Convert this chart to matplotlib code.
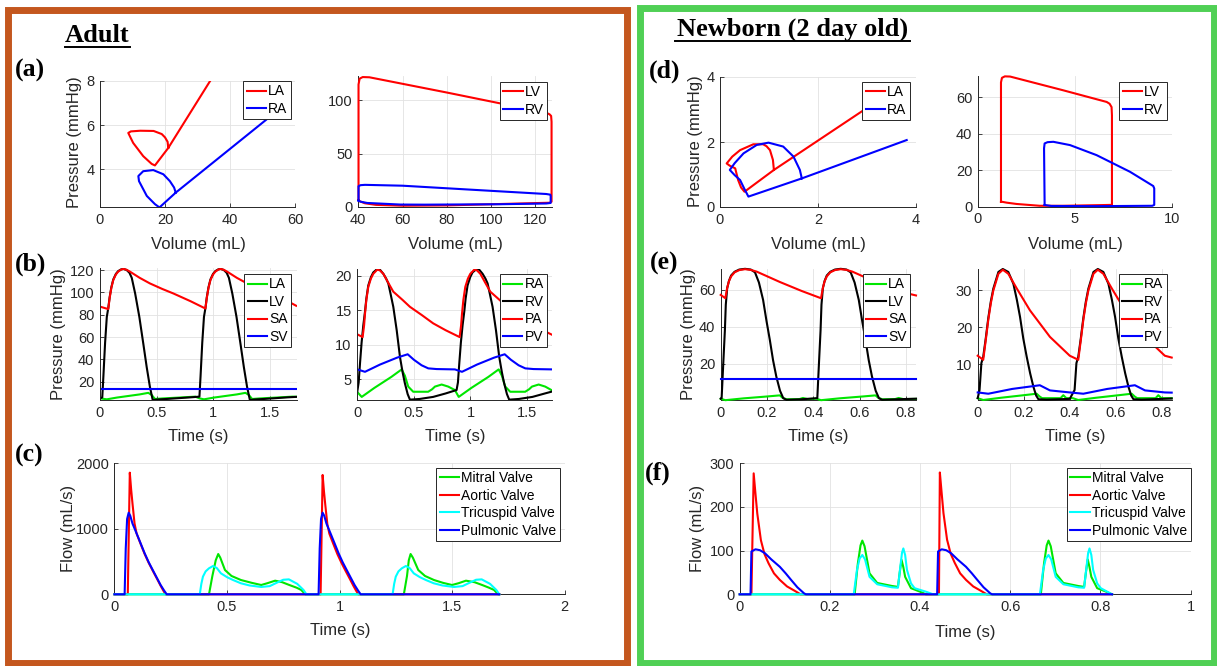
import matplotlib
matplotlib.use('Agg')
import matplotlib.pyplot as plt
from matplotlib.patches import Rectangle
from matplotlib.lines import Line2D

# ---------------- DATA ----------------
# (a) Adult atrial PV loops
adult_LA_vol = [21.0, 20.8, 20.0, 19.0, 16.5, 12.4, 9.5, 8.7, 10.2, 13.3, 15.9, 16.9, 21.0, 36.0]
adult_LA_prs = [4.97, 5.25, 5.45, 5.6, 5.74, 5.75, 5.72, 5.65, 5.2, 4.6, 4.25, 4.18, 4.97, 8.5]
adult_RA_vol = [23.3, 22.8, 21.5, 19.5, 16.4, 13.3, 11.8, 12.0, 14.4, 16.9, 18.3, 23.3, 52.0]
adult_RA_prs = [2.95, 3.18, 3.47, 3.78, 3.97, 3.92, 3.7, 3.47, 2.8, 2.43, 2.28, 2.95, 6.35]
# (a) Adult ventricular PV loops
adult_LV_vol = [40.1, 40.1, 40.6, 42.0, 45.0, 80.0, 125.0, 126.5, 127.2, 127.4, 127.4, 126.5, 104.0, 80.0, 60.0, 48.0, 43.0, 40.5, 40.1]
adult_LV_prs = [6.5, 115.0, 120.5, 122.0, 121.8, 107.5, 88.5, 87.0, 85.5, 80.0, 5.0, 4.0, 2.8, 1.5, 1.2, 2.0, 3.5, 5.5, 6.5]
adult_RV_vol = [40.1, 40.1, 41.0, 43.0, 60.0, 89.0, 125.0, 126.8, 127.0, 127.0, 125.0, 104.0, 70.0, 59.0, 44.0, 41.0, 40.1]
adult_RV_prs = [6.0, 19.5, 20.5, 20.8, 20.0, 16.5, 12.2, 11.6, 10.5, 3.8, 3.3, 2.6, 2.2, 2.3, 3.8, 5.0, 6.0]

# (b) Adult left-side pressures
adult_bLA_t = [0.000, 0.060, 0.150, 0.250, 0.350, 0.426, 0.456, 0.485, 0.550, 0.700, 0.840, 0.877, 0.917, 1.007, 1.107, 1.207, 1.283, 1.313, 1.342, 1.407, 1.557, 1.697, 1.730]
adult_bLA_p = [5.1, 4.2, 5.8, 7.2, 8.6, 10.0, 8.1, 4.5, 5.0, 5.8, 6.6, 5.1, 4.2, 5.8, 7.2, 8.6, 10.0, 8.1, 4.5, 5.0, 5.8, 6.6, 6.5]
adult_bLV_t = [0.000, 0.020, 0.030, 0.045, 0.060, 0.073, 0.085, 0.100, 0.117, 0.140, 0.160, 0.185, 0.206, 0.235, 0.260, 0.280, 0.310, 0.347, 0.382, 0.412, 0.440, 0.465, 0.500, 0.600, 0.700, 0.800, 0.877,
               0.887, 0.902, 0.917, 0.930, 0.942, 0.957, 0.974, 0.997, 1.017, 1.042, 1.063, 1.092, 1.117, 1.137, 1.167, 1.204, 1.239, 1.269, 1.297, 1.322, 1.357, 1.457, 1.557, 1.657, 1.730]
adult_bLV_p = [5.0, 6.0, 25.0, 55.0, 78.0, 86.0, 95.5, 104.5, 111.5, 116.5, 119.0, 120.5, 121.0, 120.0, 117.5, 113.0, 99.0, 78.0, 54.0, 33.0, 15.5, 3.6, 4.0, 4.6, 5.3, 6.0, 6.6,
               25.0, 55.0, 78.0, 86.0, 95.5, 104.5, 111.5, 116.5, 119.0, 120.5, 121.0, 120.0, 117.5, 113.0, 99.0, 78.0, 54.0, 33.0, 15.5, 3.6, 4.0, 4.6, 5.3, 6.0, 6.4]
adult_bSA_t = [0.000, 0.073, 0.085, 0.100, 0.117, 0.140, 0.160, 0.185, 0.206, 0.235, 0.265, 0.350, 0.440, 0.550, 0.647, 0.800,
               0.930, 0.942, 0.957, 0.974, 0.997, 1.017, 1.042, 1.063, 1.092, 1.122, 1.207, 1.297, 1.407, 1.504, 1.657, 1.730]
adult_bSA_p = [87.2, 85.0, 95.0, 104.0, 111.0, 116.0, 118.5, 120.3, 121.0, 120.2, 118.5, 113.0, 108.0, 103.0, 99.0, 92.0,
               85.5, 95.0, 104.0, 111.0, 116.0, 118.5, 120.3, 121.0, 120.2, 118.5, 113.0, 108.0, 103.0, 99.0, 92.0, 88.0]
adult_bSV_t = [0.0, 1.73]
adult_bSV_p = [13.7, 13.7]

# (b) Adult right-side pressures
adult_bRA_t = [0.000, 0.039, 0.150, 0.300, 0.392, 0.420, 0.450, 0.494, 0.626, 0.660, 0.686, 0.745, 0.803, 0.862, 0.896, 1.007, 1.157, 1.249, 1.277, 1.307, 1.351, 1.483, 1.517, 1.543, 1.602, 1.660, 1.725]
adult_bRA_p = [3.1, 2.4, 3.7, 5.3, 6.4, 5.5, 3.9, 3.15, 3.15, 3.5, 3.9, 4.2, 3.9, 3.4, 2.4, 3.7, 5.3, 6.4, 5.5, 3.9, 3.15, 3.15, 3.5, 3.9, 4.2, 3.9, 3.3]
adult_bRV_t = [0.000, 0.012, 0.024, 0.038, 0.053, 0.068, 0.080, 0.097, 0.120, 0.141, 0.176, 0.200, 0.230, 0.255, 0.274, 0.295, 0.318, 0.348, 0.377, 0.400, 0.420, 0.445, 0.465, 0.550, 0.670, 0.780, 0.877,
               0.889, 0.901, 0.915, 0.930, 0.945, 0.957, 0.974, 0.997, 1.018, 1.053, 1.077, 1.107, 1.132, 1.151, 1.172, 1.195, 1.225, 1.254, 1.277, 1.297, 1.322, 1.342, 1.427, 1.547, 1.657, 1.725]
adult_bRV_p = [3.2, 4.5, 7.3, 10.3, 12.8, 14.8, 16.7, 18.6, 19.8, 20.5, 21.0, 20.9, 20.3, 19.6, 18.9, 17.3, 15.5, 12.1, 8.2, 6.0, 4.4, 2.8, 2.0, 2.1, 2.4, 2.9, 3.4,
               4.5, 7.3, 10.3, 12.8, 14.8, 16.7, 18.6, 19.8, 20.5, 21.0, 20.9, 20.3, 19.6, 18.9, 17.3, 15.5, 12.1, 8.2, 6.0, 4.4, 2.8, 2.0, 2.1, 2.4, 2.9, 3.2]
adult_bPA_t = [0.000, 0.047, 0.060, 0.068, 0.080, 0.097, 0.120, 0.141, 0.176, 0.200, 0.230, 0.270, 0.318, 0.400, 0.465, 0.570, 0.670, 0.780,
               0.904, 0.917, 0.925, 0.937, 0.954, 0.977, 0.998, 1.033, 1.057, 1.087, 1.127, 1.175, 1.257, 1.322, 1.427, 1.527, 1.637, 1.725]
adult_bPA_p = [11.5, 11.1, 12.8, 14.5, 16.5, 18.4, 19.6, 20.3, 20.9, 20.8, 20.3, 19.1, 17.7, 16.5, 15.5, 14.3, 13.1, 12.1,
               11.1, 12.8, 14.5, 16.5, 18.4, 19.6, 20.3, 20.9, 20.8, 20.3, 19.1, 17.7, 16.5, 15.5, 14.3, 13.1, 12.1, 11.4]
adult_bPV_t = [0.000, 0.068, 0.200, 0.350, 0.445, 0.500, 0.568, 0.627, 0.700, 0.862, 0.925, 1.057, 1.207, 1.302, 1.357, 1.425, 1.484, 1.557, 1.725]
adult_bPV_p = [6.4, 6.05, 7.1, 8.1, 8.6, 7.8, 7.0, 6.55, 6.45, 6.4, 6.05, 7.1, 8.1, 8.6, 7.8, 7.0, 6.55, 6.45, 6.4]

# (c) Adult valve flows
adult_mitral_t = [0.000, 0.420, 0.435, 0.450, 0.461, 0.470, 0.491, 0.520, 0.562, 0.610, 0.652, 0.680, 0.714, 0.745, 0.777, 0.810, 0.830, 0.848,
                  1.286, 1.300, 1.308, 1.316, 1.326, 1.350, 1.380, 1.420, 1.460, 1.500, 1.530, 1.562, 1.600, 1.634, 1.665, 1.687, 1.705, 1.710]
adult_mitral_q = [0, 0, 280, 520, 615, 560, 371, 280, 218, 175, 142, 170, 208, 185, 142, 100, 66, 0,
                  0, 280, 520, 615, 560, 371, 280, 218, 175, 142, 170, 208, 185, 142, 100, 66, 0, 0]
adult_aortic_t = [0.000, 0.059, 0.068, 0.074, 0.080, 0.089, 0.098, 0.116, 0.134, 0.152, 0.170, 0.190, 0.205, 0.218, 0.227,
                  0.916, 0.925, 0.931, 0.937, 0.946, 0.955, 0.973, 0.991, 1.009, 1.027, 1.047, 1.062, 1.075, 1.084, 1.710]
adult_aortic_q = [0, 0, 1857, 1600, 1384, 1084, 930, 770, 615, 480, 360, 230, 130, 50, 0,
                  0, 1822, 1570, 1360, 1070, 925, 765, 610, 478, 358, 228, 128, 48, 0, 0]
adult_tricus_t = [0.000, 0.379, 0.386, 0.393, 0.405, 0.420, 0.438, 0.455, 0.473, 0.500, 0.527, 0.562, 0.600, 0.652, 0.690, 0.720, 0.750, 0.775, 0.812, 0.840, 0.853,
                  1.236, 1.243, 1.250, 1.262, 1.277, 1.295, 1.312, 1.330, 1.357, 1.384, 1.419, 1.457, 1.509, 1.547, 1.577, 1.607, 1.632, 1.669, 1.697, 1.710]
adult_tricus_q = [0, 0, 160, 269, 350, 397, 432, 400, 320, 262, 218, 168, 135, 112, 125, 175, 222, 228, 160, 66, 0,
                  0, 160, 269, 350, 397, 432, 400, 320, 262, 218, 168, 135, 112, 125, 175, 222, 228, 160, 66, 0]
adult_pulm_t = [0.000, 0.045, 0.050, 0.056, 0.063, 0.070, 0.080, 0.098, 0.116, 0.134, 0.152, 0.170, 0.190, 0.205, 0.220, 0.232,
                0.907, 0.912, 0.918, 0.925, 0.932, 0.942, 0.960, 0.978, 0.996, 1.014, 1.032, 1.052, 1.067, 1.082, 1.094, 1.710]
adult_pulm_q = [0, 0, 700, 1150, 1246, 1200, 1080, 931, 779, 626, 490, 371, 240, 142, 60, 0,
                0, 700, 1150, 1246, 1200, 1080, 931, 779, 626, 490, 371, 240, 142, 60, 0, 0]

# (d) Newborn atrial PV loops
nb_LA_vol = [1.1, 1.08, 1.02, 0.95, 0.88, 0.68, 0.41, 0.25, 0.136, 0.2, 0.31, 0.37, 0.43, 0.5, 1.1, 3.3]
nb_LA_prs = [1.14, 1.45, 1.75, 1.87, 1.93, 1.93, 1.75, 1.55, 1.34, 1.27, 1.19, 0.83, 0.6, 0.47, 1.14, 3.35]
nb_RA_vol = [1.67, 1.63, 1.5, 1.29, 0.99, 0.75, 0.48, 0.3, 0.2, 0.3, 0.41, 0.5, 0.58, 1.67, 3.81]
nb_RA_prs = [0.88, 1.14, 1.55, 1.86, 1.98, 1.91, 1.65, 1.35, 1.14, 0.98, 0.83, 0.55, 0.32, 0.88, 2.06]
# (d) Newborn ventricular PV loops
nb_LV_vol = [1.2, 1.2, 1.25, 1.4, 1.67, 4.4, 6.65, 6.8, 6.9, 6.92, 6.92, 6.5, 4.4, 3.2, 2.0, 1.5, 1.25, 1.2]
nb_LV_prs = [2.8, 68.0, 70.5, 71.3, 71.2, 63.7, 57.3, 56.3, 54.5, 50.0, 1.0, 0.9, 0.5, 0.5, 1.5, 2.2, 2.7, 2.8]
nb_RV_vol = [3.45, 3.42, 3.45, 3.6, 3.9, 4.76, 6.13, 7.85, 9.05, 9.1, 9.1, 9.0, 6.1, 3.8, 3.47, 3.45]
nb_RV_prs = [1.0, 32.0, 34.6, 35.3, 35.5, 33.7, 28.2, 19.1, 11.3, 10.0, 1.0, 0.5, 0.3, 0.4, 0.9, 1.0]

# (e) Newborn left-side pressures
nb_eLA_t = [0.000, 0.020, 0.100, 0.200, 0.255, 0.268, 0.285, 0.340, 0.355, 0.365, 0.375, 0.413, 0.433, 0.513, 0.613, 0.668, 0.681, 0.698, 0.753, 0.768, 0.778, 0.788, 0.843]
nb_eLA_p = [1.2, 0.4, 1.4, 2.4, 3.0, 1.6, 0.9, 1.0, 1.6, 1.3, 1.0, 1.2, 0.4, 1.4, 2.4, 3.0, 1.6, 0.9, 1.0, 1.6, 1.3, 1.0, 1.1]
nb_eLV_t = [0.000, 0.004, 0.011, 0.018, 0.022, 0.028, 0.036, 0.045, 0.060, 0.080, 0.105, 0.130, 0.148, 0.165, 0.183, 0.198, 0.212, 0.226, 0.240, 0.256, 0.270, 0.284, 0.350,
            0.417, 0.424, 0.431, 0.435, 0.441, 0.449, 0.458, 0.473, 0.493, 0.518, 0.543, 0.561, 0.578, 0.596, 0.611, 0.625, 0.639, 0.653, 0.669, 0.683, 0.697, 0.763, 0.843]
nb_eLV_p = [1.2, 1.5, 20.0, 38.0, 52.0, 61.0, 65.0, 67.8, 69.8, 71.0, 71.4, 71.0, 69.5, 64.0, 54.6, 43.0, 33.0, 22.0, 13.2, 5.5, 1.5, 0.6, 0.9,
            1.5, 20.0, 38.0, 52.0, 61.0, 65.0, 67.8, 69.8, 71.0, 71.4, 71.0, 69.5, 64.0, 54.6, 43.0, 33.0, 22.0, 13.2, 5.5, 1.5, 0.6, 0.9, 1.2]
nb_eSA_t = [0.000, 0.020, 0.027, 0.035, 0.045, 0.060, 0.080, 0.105, 0.130, 0.155, 0.255, 0.350,
            0.433, 0.440, 0.448, 0.458, 0.473, 0.493, 0.518, 0.543, 0.568, 0.668, 0.763, 0.843]
nb_eSA_p = [57.3, 55.5, 60.5, 64.5, 67.3, 69.5, 70.7, 71.2, 70.8, 69.9, 64.3, 59.4,
            55.5, 60.5, 64.5, 67.3, 69.5, 70.7, 71.2, 70.8, 69.9, 64.3, 59.4, 57.0]
nb_eSV_t = [0.0, 0.843]
nb_eSV_p = [11.7, 11.7]

# (e) Newborn right-side pressures
nb_eRA_t = [0.000, 0.024, 0.100, 0.200, 0.256, 0.270, 0.280, 0.360, 0.372, 0.385, 0.413, 0.437, 0.513, 0.613, 0.669, 0.683, 0.693, 0.773, 0.785, 0.798, 0.843]
nb_eRA_p = [0.8, 0.3, 0.9, 1.6, 2.0, 1.2, 0.8, 0.8, 1.6, 0.8, 0.8, 0.3, 0.9, 1.6, 2.0, 1.2, 0.8, 0.8, 1.6, 0.8, 0.8]
nb_eRV_t = [0.000, 0.008, 0.016, 0.024, 0.035, 0.046, 0.057, 0.068, 0.090, 0.109, 0.133, 0.155, 0.170, 0.184, 0.198, 0.213, 0.228, 0.242, 0.254, 0.264, 0.300, 0.400,
            0.421, 0.429, 0.437, 0.448, 0.459, 0.470, 0.481, 0.503, 0.522, 0.546, 0.568, 0.583, 0.597, 0.611, 0.626, 0.641, 0.655, 0.667, 0.677, 0.713, 0.843]
nb_eRV_p = [0.8, 3.0, 10.3, 12.0, 17.0, 22.5, 27.0, 30.5, 35.0, 35.8, 35.0, 31.8, 27.5, 22.8, 17.0, 12.0, 7.5, 3.9, 1.5, 0.5, 0.4, 0.6,
            3.0, 10.3, 12.0, 17.0, 22.5, 27.0, 30.5, 35.0, 35.8, 35.0, 31.8, 27.5, 22.8, 17.0, 12.0, 7.5, 3.9, 1.5, 0.5, 0.4, 0.7]
nb_ePA_t = [0.000, 0.024, 0.035, 0.046, 0.057, 0.068, 0.090, 0.109, 0.133, 0.170, 0.227, 0.314, 0.400,
            0.437, 0.448, 0.459, 0.470, 0.481, 0.503, 0.522, 0.546, 0.583, 0.640, 0.727, 0.813, 0.843]
nb_ePA_p = [12.3, 11.2, 16.5, 22.0, 26.5, 30.0, 34.5, 35.6, 34.5, 30.5, 24.6, 17.4, 12.3,
            11.2, 16.5, 22.0, 26.5, 30.0, 34.5, 35.6, 34.5, 30.5, 24.6, 17.4, 12.3, 11.8]
nb_ePV_t = [0.000, 0.046, 0.150, 0.270, 0.314, 0.400, 0.459, 0.563, 0.683, 0.727, 0.813, 0.843]
nb_ePV_p = [2.35, 2.0, 3.3, 4.3, 2.9, 2.35, 2.0, 3.3, 4.3, 2.9, 2.35, 2.3]

# (f) Newborn valve flows
nb_mitral_t = [0.000, 0.255, 0.262, 0.268, 0.272, 0.277, 0.288, 0.305, 0.338, 0.351, 0.355, 0.359, 0.363, 0.367, 0.380, 0.400, 0.413,
               0.668, 0.675, 0.681, 0.685, 0.690, 0.701, 0.718, 0.751, 0.764, 0.768, 0.772, 0.776, 0.780, 0.793, 0.813, 0.826]
nb_mitral_q = [0, 0, 70, 112, 123, 110, 48, 26, 19, 17, 50, 79, 62, 40, 14, 6, 0,
               0, 70, 112, 123, 110, 48, 26, 19, 17, 50, 80, 62, 40, 14, 6, 0]
nb_aortic_t = [0.000, 0.026, 0.031, 0.035, 0.039, 0.047, 0.055, 0.064, 0.076, 0.089, 0.105, 0.122, 0.135,
               0.442, 0.444, 0.448, 0.452, 0.460, 0.468, 0.477, 0.489, 0.502, 0.518, 0.535, 0.548, 0.826]
nb_aortic_q = [0, 0, 277, 230, 185, 124, 92, 71, 48, 33, 18, 8, 0,
               0, 279, 232, 186, 125, 93, 72, 48, 33, 18, 8, 0, 0]
nb_tricus_t = [0.000, 0.253, 0.260, 0.266, 0.272, 0.278, 0.288, 0.305, 0.338, 0.351, 0.356, 0.360, 0.363, 0.367, 0.371, 0.380, 0.388, 0.413, 0.429,
               0.666, 0.673, 0.679, 0.685, 0.691, 0.701, 0.718, 0.751, 0.764, 0.769, 0.773, 0.776, 0.780, 0.784, 0.793, 0.801, 0.826]
nb_tricus_q = [0, 0, 55, 82, 90, 80, 40, 23, 16, 15, 60, 95, 105, 90, 56, 25, 14, 6, 0,
               0, 55, 82, 90, 80, 40, 23, 16, 15, 60, 95, 105, 90, 56, 25, 14, 0]
nb_pulm_t = [0.000, 0.024, 0.026, 0.035, 0.045, 0.056, 0.070, 0.089, 0.102, 0.114, 0.128, 0.143, 0.147,
             0.438, 0.440, 0.448, 0.458, 0.469, 0.483, 0.502, 0.515, 0.527, 0.541, 0.556, 0.560, 0.826]
nb_pulm_q = [0, 0, 98, 103, 101, 94, 80, 63, 48, 33, 16, 2, 0,
             0, 98, 103, 101, 94, 80, 63, 48, 33, 16, 2, 0, 0]

# tick labels
adult_aL_xt = [0, 20, 40, 60];            adult_aL_yt = [4, 6, 8]
adult_aR_xt = [40, 60, 80, 100, 120];     adult_aR_yt = [0, 50, 100]
adult_b_xt = [0, 0.5, 1, 1.5];            adult_b_xtl = ['0', '0.5', '1', '1.5']
adult_bL_yt = [20, 40, 60, 80, 100, 120]; adult_bR_yt = [5, 10, 15, 20]
adult_c_xt = [0, 0.5, 1, 1.5, 2];         adult_c_xtl = ['0', '0.5', '1', '1.5', '2']
adult_c_yt = [0, 1000, 2000]
nb_dL_xt = [0, 2, 4];                     nb_dL_yt = [0, 2, 4]
nb_dR_xt = [0, 5, 10];                    nb_dR_yt = [0, 20, 40, 60]
nb_e_xt = [0, 0.2, 0.4, 0.6, 0.8];        nb_e_xtl = ['0', '0.2', '0.4', '0.6', '0.8']
nb_eL_yt = [20, 40, 60];                  nb_eR_yt = [10, 20, 30]
nb_f_xt = [0, 0.2, 0.4, 0.6, 0.8, 1];     nb_f_xtl = ['0', '0.2', '0.4', '0.6', '0.8', '1']
nb_f_yt = [0, 100, 200, 300]

# ---------------- FIGURE ----------------
W, H = 1217, 666
fig = plt.figure(figsize=(W / 100, H / 100), dpi=100)
fig.patch.set_facecolor('white')
SANS = ['Liberation Sans', 'DejaVu Sans']
SERIF = ['Liberation Serif', 'DejaVu Serif']
plt.rcParams['font.family'] = SANS
TXT = '#262626'
RED, BLUE, GREEN, BLACK, CYAN = '#FF0000', '#0000FF', '#00E600', '#000000', '#00FFFF'
LW = 1.5


def fx(x):
    return x / W


def fy(y):
    return 1 - y / H


def add_ax(x0, y0, x1, y1):
    return fig.add_axes([fx(x0), fy(y1), (x1 - x0) / W, (y1 - y0) / H])


def style(ax, xlim, ylim, xt, yt, xtl=None, ytl=None):
    ax.set_xlim(xlim)
    ax.set_ylim(ylim)
    ax.set_xticks(xt)
    ax.set_yticks(yt)
    ax.set_xticklabels(xtl if xtl is not None else [str(v) for v in xt])
    ax.set_yticklabels(ytl if ytl is not None else [str(v) for v in yt])
    for s in ['top', 'right']:
        ax.spines[s].set_visible(False)
    for s in ['left', 'bottom']:
        ax.spines[s].set_color(TXT)
        ax.spines[s].set_linewidth(0.7)
    ax.tick_params(direction='in', length=3, width=0.6, color=TXT,
                   labelcolor=TXT, labelsize=10.5, pad=4)
    ax.grid(True, color='#E2E2E2', linewidth=0.6)
    ax.set_axisbelow(True)


def legend(ax, right, top):
    lg = ax.legend(loc='upper right', bbox_to_anchor=(fx(right), fy(top)),
                   bbox_transform=fig.transFigure, fontsize=10, frameon=True,
                   fancybox=False, framealpha=1, edgecolor=TXT, borderpad=0.25,
                   handlelength=1.4, handletextpad=0.15, labelspacing=0.25,
                   borderaxespad=0)
    lg.get_frame().set_linewidth(0.7)
    lg.set_zorder(10)


def ftext(x, y, s, **kw):
    fig.text(fx(x), fy(y), s, ha='center', va='center', color=kw.pop('color', TXT), **kw)


# (a) left
ax = add_ax(100, 81, 295, 207)
ax.plot(adult_LA_vol, adult_LA_prs, color=RED, lw=LW, label='LA')
ax.plot(adult_RA_vol, adult_RA_prs, color=BLUE, lw=LW, label='RA')
style(ax, (0, 60), (2.3, 8), adult_aL_xt, adult_aL_yt)
legend(ax, 291, 81)
# (a) right
ax = add_ax(358.3, 76, 552, 207)
ax.plot(adult_LV_vol, adult_LV_prs, color=RED, lw=LW, label='LV', clip_on=False, zorder=3)
ax.plot(adult_RV_vol, adult_RV_prs, color=BLUE, lw=LW, label='RV', clip_on=False, zorder=3)
style(ax, (40, 127.6), (0, 123), adult_aR_xt, adult_aR_yt)
legend(ax, 547.3, 81.7)
# (b) left
ax = add_ax(100, 268, 296.7, 400)
ax.plot(adult_bLA_t, adult_bLA_p, color=GREEN, lw=LW, label='LA')
ax.plot(adult_bLV_t, adult_bLV_p, color=BLACK, lw=LW, label='LV')
ax.plot(adult_bSA_t, adult_bSA_p, color=RED, lw=LW, label='SA')
ax.plot(adult_bSV_t, adult_bSV_p, color=BLUE, lw=LW, label='SV')
style(ax, (0, 1.735), (3.6, 121.8), adult_b_xt, adult_bL_yt, adult_b_xtl)
legend(ax, 291, 274)
# (b) right
ax = add_ax(357.3, 269, 552, 400)
ax.plot(adult_bRA_t, adult_bRA_p, color=GREEN, lw=LW, label='RA')
ax.plot(adult_bRV_t, adult_bRV_p, color=BLACK, lw=LW, label='RV')
ax.plot(adult_bPA_t, adult_bPA_p, color=RED, lw=LW, label='PA')
ax.plot(adult_bPV_t, adult_bPV_p, color=BLUE, lw=LW, label='PV')
style(ax, (0, 1.72), (1.95, 21.0), adult_b_xt, adult_bR_yt, adult_b_xtl)
legend(ax, 547.3, 274)
# (c)
ax = add_ax(114.5, 463.3, 564.5, 594.3)
ax.plot(adult_mitral_t, adult_mitral_q, color=GREEN, lw=LW, label='Mitral Valve', clip_on=False, zorder=3)
ax.plot(adult_aortic_t, adult_aortic_q, color=RED, lw=LW, label='Aortic Valve', clip_on=False, zorder=3)
ax.plot(adult_tricus_t, adult_tricus_q, color=CYAN, lw=LW, label='Tricuspid Valve', clip_on=False, zorder=3)
ax.plot(adult_pulm_t, adult_pulm_q, color=BLUE, lw=LW, label='Pulmonic Valve', clip_on=False, zorder=3)
style(ax, (0, 2), (0, 2000), adult_c_xt, adult_c_yt, adult_c_xtl)
legend(ax, 559.7, 467.7)

# (d) left
ax = add_ax(720, 77, 916, 207)
ax.plot(nb_LA_vol, nb_LA_prs, color=RED, lw=LW, label='LA')
ax.plot(nb_RA_vol, nb_RA_prs, color=BLUE, lw=LW, label='RA')
style(ax, (0, 4), (0, 4), nb_dL_xt, nb_dL_yt)
legend(ax, 910, 81.7)
# (d) right
ax = add_ax(977.7, 76, 1171.7, 206.7)
ax.plot(nb_LV_vol, nb_LV_prs, color=RED, lw=LW, label='LV', clip_on=False, zorder=3)
ax.plot(nb_RV_vol, nb_RV_prs, color=BLUE, lw=LW, label='RV', clip_on=False, zorder=3)
style(ax, (0, 10), (0, 71.5), nb_dR_xt, nb_dR_yt)
legend(ax, 1166.7, 81.7)
# (e) left
ax = add_ax(720.7, 269, 916, 400)
ax.plot(nb_eLA_t, nb_eLA_p, color=GREEN, lw=LW, label='LA', clip_on=False, zorder=3)
ax.plot(nb_eLV_t, nb_eLV_p, color=BLACK, lw=LW, label='LV', clip_on=False, zorder=3)
ax.plot(nb_eSA_t, nb_eSA_p, color=RED, lw=LW, label='SA', clip_on=False, zorder=3)
ax.plot(nb_eSV_t, nb_eSV_p, color=BLUE, lw=LW, label='SV', clip_on=False, zorder=3)
style(ax, (0, 0.843), (0.5, 71.3), nb_e_xt, nb_eL_yt, nb_e_xtl)
legend(ax, 910, 274)
# (e) right
ax = add_ax(977.7, 269, 1171.7, 400)
ax.plot(nb_eRA_t, nb_eRA_p, color=GREEN, lw=LW, label='RA', clip_on=False, zorder=3)
ax.plot(nb_eRV_t, nb_eRV_p, color=BLACK, lw=LW, label='RV', clip_on=False, zorder=3)
ax.plot(nb_ePA_t, nb_ePA_p, color=RED, lw=LW, label='PA', clip_on=False, zorder=3)
ax.plot(nb_ePV_t, nb_ePV_p, color=BLUE, lw=LW, label='PV', clip_on=False, zorder=3)
style(ax, (0, 0.843), (0.3, 35.8), nb_e_xt, nb_eR_yt, nb_e_xtl)
legend(ax, 1166.7, 274)
# (f)
ax = add_ax(739.7, 463.3, 1190.5, 594.3)
ax.plot(nb_mitral_t, nb_mitral_q, color=GREEN, lw=LW, label='Mitral Valve', clip_on=False, zorder=3)
ax.plot(nb_aortic_t, nb_aortic_q, color=RED, lw=LW, label='Aortic Valve', clip_on=False, zorder=3)
ax.plot(nb_tricus_t, nb_tricus_q, color=CYAN, lw=LW, label='Tricuspid Valve', clip_on=False, zorder=3)
ax.plot(nb_pulm_t, nb_pulm_q, color=BLUE, lw=LW, label='Pulmonic Valve', clip_on=False, zorder=3)
style(ax, (0, 1), (0, 300), nb_f_xt, nb_f_yt, nb_f_xtl)
legend(ax, 1190.5, 467.7)

# axis labels
LBL = 12
for (x, y) in [(75, 142), (59, 334), (695, 141), (688, 334)]:
    ftext(x, y, 'Pressure (mmHg)', rotation=90, fontsize=LBL)
for (x, y) in [(68, 528), (697.5, 528)]:
    ftext(x, y, 'Flow (mL/s)', rotation=90, fontsize=LBL)
for (x, y) in [(198, 245), (455, 245), (818, 245), (1075, 245)]:
    ftext(x, y, 'Volume (mL)', fontsize=LBL)
for (x, y) in [(198, 437), (455, 437), (818, 437), (1075, 437), (340, 631), (965, 632)]:
    ftext(x, y, 'Time (s)', fontsize=LBL)

# panel labels
for (x, y, s) in [(30, 70, '(a)'), (31, 264, '(b)'), (29, 455, '(c)'),
                  (665, 71, '(d)'), (664, 263, '(e)'), (658, 473, '(f)')]:
    ftext(x, y, s, fontsize=18.5, fontweight='bold', family=SERIF, color='black')

# titles with underline
fig.text(fx(97.5), fy(41.7), 'Adult', ha='center', va='baseline', fontsize=19,
         fontweight='bold', family=SERIF, color='black')
fig.add_artist(Line2D([fx(65), fx(130)], [fy(46.5), fy(46.5)], color='black', lw=1.4,
                      transform=fig.transFigure))
fig.text(fx(792.5), fy(35.5), 'Newborn (2 day old)', ha='center', va='baseline', fontsize=19,
         fontweight='bold', family=SERIF, color='black')
fig.add_artist(Line2D([fx(675), fx(910)], [fy(40.5), fy(40.5)], color='black', lw=1.4,
                      transform=fig.transFigure))

# coloured frames
fig.add_artist(Rectangle((fx(8), fy(663)), (626.5 - 8) / W, (663 - 10) / H, fill=False,
                         edgecolor='#C4571E', linewidth=5, transform=fig.transFigure))
fig.add_artist(Rectangle((fx(640), fy(663)), (1213.5 - 640) / W, (663 - 8) / H, fill=False,
                         edgecolor='#50D055', linewidth=5, transform=fig.transFigure))

fig.savefig('out.png', dpi=100, facecolor='white')
